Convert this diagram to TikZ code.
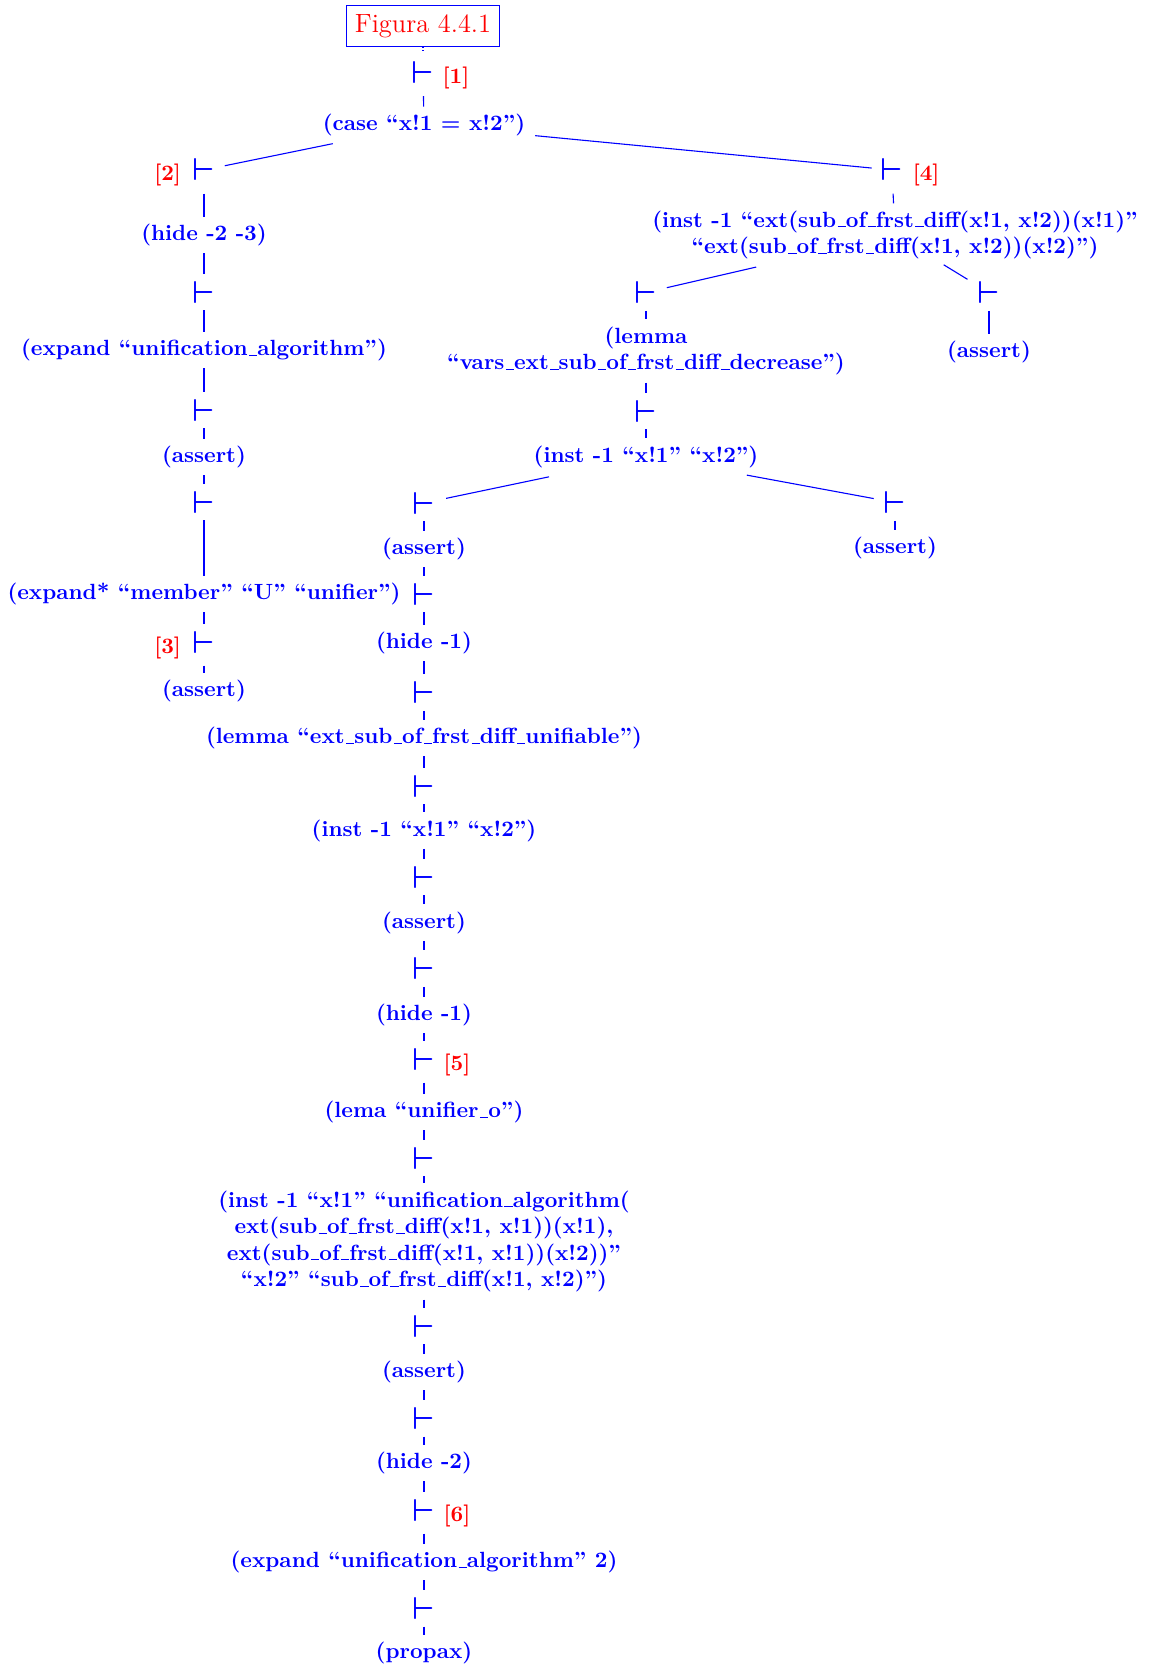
\documentclass[tikz,border=0pt]{standalone}
\usepackage{tikz}
\usetikzlibrary{positioning}

% short underscore, as in the old OT1 fonts
\newcommand\usc{\leavevmode\kern.06em\vbox{\hrule width.38em height.45pt}}

\tikzset{
  figbox/.style={draw=blue, text=red, font=\large, line width=0.5pt, inner sep=4pt},
  cmd/.style={text=blue, font=\bfseries, inner sep=0pt, align=center},
  turn/.style={text=blue, font=\Large\boldmath, inner sep=0pt},
  tag/.style={text=red, font=\bfseries, inner sep=0pt},
  conn/.style={draw=blue, line width=0.5pt, shorten <=3.2pt, shorten >=3.2pt},
}

\begin{document}
\begin{tikzpicture}[x=0.4545pt, y=-0.4545pt]
    \useasboundingbox (0,0) rectangle (1154,1665);

    % title and root
    \node[figbox] (fig) at (423,26) {Figura 4.4.1};
    \node[turn] (v1) at (423,72.5) {$\vdash$};
    \node[tag, base right=3.5pt of v1] (n1) {[1]};
    \node[cmd] (case) at (424,125) {(case ``x!1 = x!2'')};

    % left branch
    \node[turn] (v2) at (204,170) {$\vdash$};
    \node[tag, base left=5pt of v2] (n2) {[2]};
    \node[cmd] (hideA) at (204,235) {(hide -2 -3)};
    \node[turn] (v3) at (204,292) {$\vdash$};
    \node[cmd] (expA) at (204,350) {(expand ``unification\usc algorithm'')};
    \node[turn] (v4) at (204,410) {$\vdash$};
    \node[cmd] (asA) at (204,457) {(assert)};
    \node[turn] (v5) at (204,502) {$\vdash$};
    \node[cmd] (expB) at (204,594) {(expand* ``member'' ``U'' ``unifier'')};
    \node[turn] (v6) at (204,642) {$\vdash$};
    \node[tag, base left=5pt of v6] (n3) {[3]};
    \node[cmd] (asB) at (204,691) {(assert)};

    % right branch
    \node[turn] (w1) at (892,170) {$\vdash$};
    \node[tag, base right=4pt of w1] (n4) {[4]};
    \node[cmd] (instA) at (895,235) {(inst -1 ``ext(sub\usc of\usc frst\usc diff(x!1, x!2))(x!1)''\\
      ``ext(sub\usc of\usc frst\usc diff(x!1, x!2))(x!2)'')};
    \node[turn] (w2) at (646,292.5) {$\vdash$};
    \node[cmd] (lemA) at (646,351) {(lemma\\``vars\usc ext\usc sub\usc of\usc frst\usc diff\usc decrease'')};
    \node[turn] (w3) at (646,411) {$\vdash$};
    \node[cmd] (instB) at (646,456.5) {(inst -1 ``x!1'' ``x!2'')};
    \node[turn] (w4) at (989,292.5) {$\vdash$};
    \node[cmd] (asC) at (989,352) {(assert)};
    \node[turn] (w5) at (895,502.5) {$\vdash$};
    \node[cmd] (asD) at (895,548) {(assert)};

    % middle chain
    \node[turn] (m1) at (424,503) {$\vdash$};
    \node[cmd] (asE) at (424,549) {(assert)};
    \node[turn] (m2) at (424,594) {$\vdash$};
    \node[cmd] (hideB) at (424,643) {(hide -1)};
    \node[turn] (m3) at (424,692.5) {$\vdash$};
    \node[cmd] (lemB) at (424,738) {(lemma ``ext\usc sub\usc of\usc frst\usc diff\usc unifiable'')};
    \node[turn] (m4) at (424,786) {$\vdash$};
    \node[cmd] (instC) at (424,830.5) {(inst -1 ``x!1'' ``x!2'')};
    \node[turn] (m5) at (424,877) {$\vdash$};
    \node[cmd] (asF) at (424,922.5) {(assert)};
    \node[turn] (m6) at (424,968.5) {$\vdash$};
    \node[cmd] (hideC) at (424,1015) {(hide -1)};
    \node[turn] (m7) at (424,1059) {$\vdash$};
    \node[tag, base right=3.5pt of m7] (n5) {[5]};
    \node[cmd] (lemC) at (424,1112) {(lema ``unifier\usc o'')};
    \node[turn] (m8) at (424,1158) {$\vdash$};
    \node[cmd] (instD) at (424,1241.5) {(inst -1 ``x!1'' ``unification\usc algorithm(\\
      ext(sub\usc of\usc frst\usc diff(x!1, x!1))(x!1),\\
      ext(sub\usc of\usc frst\usc diff(x!1, x!1))(x!2))''\\
      ``x!2'' ``sub\usc of\usc frst\usc diff(x!1, x!2)'')};
    \node[turn] (m9) at (424,1326) {$\vdash$};
    \node[cmd] (asG) at (424,1372) {(assert)};
    \node[turn] (m10) at (424,1418) {$\vdash$};
    \node[cmd] (hideD) at (424,1463) {(hide -2)};
    \node[turn] (m11) at (424,1510) {$\vdash$};
    \node[tag, base right=3.5pt of m11] (n6) {[6]};
    \node[cmd] (expC) at (424,1562) {(expand ``unification\usc algorithm'' 2)};
    \node[turn] (m12) at (424,1608) {$\vdash$};
    \node[cmd] (prop) at (424,1653) {(propax)};

    % connectors
    \draw[blue, densely dotted, line width=0.5pt, shorten >=4.2pt] (fig) -- (v1);
    \draw[conn, shorten <=5.5pt] (v1) -- (case);
    \draw[conn, shorten <=16.4pt, shorten >=4.3pt] (case) -- (v2);
    \draw[conn, shorten <=4.4pt, shorten >=4pt] (case) -- (w1);
    \draw[conn, shorten <=5.5pt] (v2) -- (hideA);
    \draw[conn, shorten <=5.5pt] (v6) -- (asB);
    \draw[conn, shorten <=5.5pt] (w1) -- (instA);
    \draw[conn, shorten <=15pt, shorten >=4.3pt] (instA) -- (w2);
    \draw[conn, shorten <=4.5pt, shorten >=5.3pt] (instA) -- (w4);
    \draw[conn, shorten <=19.7pt, shorten >=4.9pt] (instB) -- (m1);
    \draw[conn, shorten <=18pt, shorten >=4.5pt] (instB) -- (w5);
    \draw[conn, shorten <=5.5pt] (m7) -- (lemC);
    \draw[conn, shorten <=5.5pt] (m11) -- (expC);
    \foreach \a/\b in {hideA/v3, v3/expA, expA/v4, v4/asA, asA/v5, v5/expB, expB/v6,
      w2/lemA, lemA/w3, w3/instB, w4/asC, w5/asD,
      m1/asE, asE/m2, m2/hideB, hideB/m3, m3/lemB, lemB/m4, m4/instC, instC/m5,
      m5/asF, asF/m6, m6/hideC, hideC/m7, lemC/m8, m8/instD, instD/m9, m9/asG,
      asG/m10, m10/hideD, hideD/m11, expC/m12, m12/prop} {
      \draw[conn] (\a) -- (\b);
    }

\end{tikzpicture}
\end{document}
